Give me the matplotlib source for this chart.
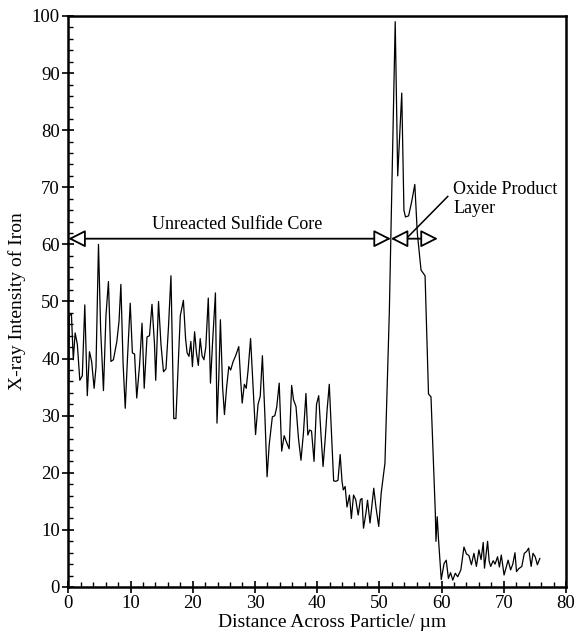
import numpy as np
import matplotlib.pyplot as plt

plt.rcParams['font.family'] = ['Liberation Serif', 'DejaVu Serif']

# line scan across the particle: distance (um) and Fe X-ray intensity
dist = [0.0, 0.15, 0.5, 0.8, 1.1, 1.45, 1.85, 2.25, 2.65, 3.05, 3.4, 3.75, 4.15, 4.45, 4.85,
        5.2, 5.65, 6.05, 6.45, 6.85, 7.25, 7.8, 8.15, 8.45, 8.8, 9.15, 9.5, 9.95, 10.3, 10.65,
        11.0, 11.45, 11.85, 12.2, 12.65, 13.05, 13.45, 13.85, 14.05, 14.5, 14.9, 15.3, 15.7,
        16.1, 16.5, 16.95, 17.3, 17.65, 18.0, 18.5, 18.85, 19.1, 19.4, 19.7, 19.95, 20.3, 20.6,
        20.9, 21.2, 21.5, 21.8, 22.1, 22.5, 22.85, 23.2, 23.65, 23.9, 24.2, 24.45, 24.8, 25.1,
        25.45, 25.8, 26.1, 26.5, 26.9, 27.4, 27.7, 27.95, 28.3, 28.6, 28.9, 29.3, 29.7, 30.1,
        30.5, 30.85, 31.2, 31.6, 31.95, 32.3, 32.8, 33.2, 33.5, 33.9, 34.3, 34.7, 35.1, 35.5,
        35.9, 36.2, 36.6, 37.0, 37.4, 37.8, 38.2, 38.5, 38.8, 39.1, 39.5, 39.9, 40.25, 40.6,
        40.95, 41.3, 41.6, 41.95, 42.3, 42.65, 43.0, 43.35, 43.7, 44.0, 44.2, 44.5, 44.8, 45.2,
        45.5, 45.85, 46.2, 46.6, 46.95, 47.2, 47.45, 47.85, 48.1, 48.5, 49.1, 49.45, 49.9, 50.3,
        50.9, 51.6, 52.55, 52.95, 53.6, 53.95, 54.2, 54.7, 55.2, 55.7, 56.1, 56.7, 57.35, 57.9,
        58.3, 59.0, 59.1, 59.3, 59.5, 59.95, 60.4, 60.75, 61.1, 61.45, 61.8, 62.2, 62.6, 63.1,
        63.6, 64.0, 64.4, 64.8, 65.2, 65.6, 66.0, 66.35, 66.7, 66.9, 67.4, 67.65, 67.9, 68.3,
        68.6, 69.0, 69.3, 69.6, 70.05, 70.4, 70.7, 71.1, 71.45, 71.8, 72.05, 72.4, 72.9, 73.3,
        73.65, 74.0, 74.4, 74.7, 75.05, 75.4, 75.8]
intensity = [26, 47.5, 47.8, 39.8, 44.5, 42.5, 36.2, 37, 49.4, 33.5, 41.2, 39.5, 34.8, 38.5, 60,
             45, 34.4, 47.5, 53.5, 39.5, 39.8, 43, 46.5, 53, 39.3, 31.3, 39.8, 49.7, 41, 40.8,
             33.1, 38.8, 46.2, 34.8, 43.8, 44, 49.5, 42.6, 36.2, 50, 42.4, 37.7, 38.2,
             45.5, 54.5, 29.5, 29.5, 38.5, 47.5, 50.2, 43.5, 41, 40.4, 43, 38.6, 44.7, 41,
             38.8, 43.5, 40.5, 39.8, 42, 50.6, 35.7, 43, 51.5, 28.7, 37, 46.8, 35, 30.2,
             35, 38.6, 38, 39.5, 40.5, 42.1, 36.3, 32.2, 35.5, 34.8, 38, 43.5, 35, 26.7,
             32, 33.4, 40.5, 30, 19.3, 25, 29.8, 30, 31.5, 35.7, 23.8, 26.5, 25.3, 24.2,
             35.3, 32.8, 31.6, 26, 22.2, 27, 33.9, 26.6, 27.5, 27.3, 22, 32, 33.5, 27,
             21.1, 26, 31, 35.5, 27, 18.6, 18.5, 18.7, 23.2, 18.5, 17, 17.6, 14, 16.1,
             12, 16.1, 15.3, 12.6, 15.3, 15.5, 10.3, 13, 15.2, 11.2, 17.3, 14, 10.6, 16.5,
             21.7, 48, 99, 72, 86.5, 66, 64.8, 65, 67.5, 70.5, 62, 55.5, 54.5, 33.8,
             33.3, 12.9, 8, 12.3, 8.5, 1.3, 4.1, 4.7, 1.5, 2.5, 1.2, 2.4, 1.8, 3,
             7, 5.8, 5.5, 3.9, 5.9, 3.6, 6.5, 4.8, 7.8, 3.3, 8, 4.5, 3.6, 4.6,
             4, 5.3, 3.5, 5.6, 2.1, 3.5, 4.7, 3, 4, 6, 2.7, 3.2, 3.6, 5.9,
             6.2, 6.8, 3.6, 5.9, 5.3, 3.9, 5]

core_end = 51.85
layer_end = 59.4
arrow_y = 61

fig = plt.figure(figsize=(5.76, 6.37), dpi=100)
ax = fig.add_axes([0.1186, 0.0785, 0.864, 0.8964])

ax.plot(dist, intensity, color='black', lw=0.9)

arr = dict(arrowstyle='<|-|>,head_length=0.75,head_width=0.38', fc='white', ec='black',
           lw=1.3, shrinkA=0, shrinkB=0, mutation_scale=14)
ax.annotate('', xy=(0, arrow_y), xytext=(core_end, arrow_y), arrowprops=arr)
ax.annotate('', xy=(core_end, arrow_y), xytext=(layer_end, arrow_y), arrowprops=arr)

ax.text(27.1, 62.7, 'Unreacted Sulfide Core', ha='center', va='baseline', fontsize=13)
ax.text(61.9, 68.9, 'Oxide Product', ha='left', va='baseline', fontsize=13)
ax.text(61.9, 65.5, 'Layer', ha='left', va='baseline', fontsize=13)
ax.plot([54.5, 61.0], [61.2, 68.4], color='black', lw=1.1)

ax.set_xlim(0, 80)
ax.set_ylim(0, 100)
ax.set_xticks(np.arange(0, 81, 10))
ax.set_yticks(np.arange(0, 101, 10))
ax.set_xticks(np.arange(0, 81, 2), minor=True)
ax.set_yticks(np.arange(0, 101, 2), minor=True)
ax.tick_params(which='major', direction='inout', length=8, width=1.2, labelsize=13.5, pad=2)
ax.tick_params(which='minor', direction='in', length=3.5, width=1.0)
for s in ax.spines.values():
    s.set_linewidth(1.8)

ax.set_xlabel('Distance Across Particle/ µm', fontsize=14)
ax.set_ylabel('X-ray Intensity of Iron', fontsize=14)
ax.xaxis.set_label_coords(0.53, -0.047)
ax.yaxis.set_label_coords(-0.085, 0.5)

fig.savefig('out.png', dpi=100)
